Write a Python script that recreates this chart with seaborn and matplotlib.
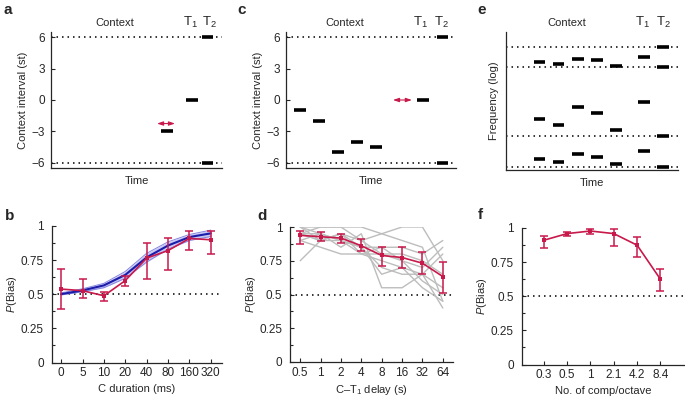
import numpy as np
import pandas as pd
import matplotlib
matplotlib.use('Agg')
import matplotlib.pyplot as plt
import seaborn as sns

# panel a : one context tone, then T1 / T2
a_tone_time = [6.05, 7.38, 8.19, 8.19]
a_tone_interval = [-3, 0, 6, -6]
a_arrow_time = [5.55, 6.49]
a_arrow_level = -2.25
a_label_time = {'Context': 3.35, 'T$_1$': 7.3, 'T$_2$': 8.3}

# panel c : five context tones
c_tone_time = [1, 2, 3, 4, 5, 7.44, 8.46, 8.46]
c_tone_interval = [-1, -2, -5, -4, -4.5, 0, 6, -6]
c_arrow_time = [5.87, 6.86]
c_arrow_level = 0
c_label_time = {'Context': 3.36, 'T$_1$': 7.3, 'T$_2$': 8.4}

# panel e : chords (log frequency, arbitrary units)
e_tone_time = [1, 1, 1, 2, 2, 2, 3, 3, 3, 4, 4, 4, 5, 5, 5, 6.47, 6.47, 6.47,
               7.47, 7.47, 7.47, 7.47]
e_tone_freq = [7.85, 3.70, 0.80, 7.70, 3.28, 0.60, 8.07, 4.54, 1.16,
               7.95, 4.13, 0.96, 7.56, 2.88, 0.43, 8.19, 4.95, 1.36,
               8.93, 7.44, 2.49, 0.24]
e_ref_freq = [8.93, 7.44, 2.49, 0.24]
e_label_time = {'Context': 2.45, 'T$_1$': 6.4, 'T$_2$': 7.5}

# panel b : C duration
b_labels = ['0', '5', '10', '20', '40', '80', '160', '320']
b_mean = [0.538, 0.526, 0.489, 0.60, 0.765, 0.82, 0.909, 0.899]
b_lo = [0.395, 0.474, 0.449, 0.56, 0.61, 0.679, 0.827, 0.793]
b_hi = [0.684, 0.61, 0.519, 0.637, 0.879, 0.911, 0.965, 0.963]
b_model = [0.501, 0.528, 0.565, 0.642, 0.77, 0.857, 0.919, 0.946]
b_model_lo = [0.495, 0.518, 0.548, 0.617, 0.736, 0.83, 0.894, 0.923]
b_model_hi = [0.51, 0.54, 0.58, 0.667, 0.80, 0.884, 0.938, 0.97]

# panel d : C-T1 delay
d_labels = ['0.5', '1', '2', '4', '8', '16', '32', '64']
d_mean = [0.938, 0.928, 0.918, 0.861, 0.789, 0.774, 0.732, 0.633]
d_lo = [0.873, 0.898, 0.881, 0.819, 0.71, 0.695, 0.653, 0.514]
d_hi = [0.973, 0.963, 0.95, 0.908, 0.849, 0.849, 0.814, 0.739]
d_subjects = [
    [1.0, 1.0, 1.0, 1.0, 0.95, 0.9, 0.85, 0.45],
    [0.95, 1.0, 1.0, 0.9, 0.95, 1.0, 1.0, 0.75],
    [0.75, 0.9, 0.95, 0.85, 0.85, 0.85, 0.8, 0.9],
    [1.0, 0.95, 0.85, 0.95, 0.55, 0.55, 0.65, 0.8],
    [0.9, 0.85, 0.8, 0.8, 0.75, 0.7, 0.65, 0.4],
    [0.95, 0.9, 0.9, 0.8, 0.8, 0.75, 0.6, 0.5],
    [0.9, 0.95, 0.9, 0.85, 0.7, 0.65, 0.65, 0.55],
    [1.0, 0.9, 0.95, 0.8, 0.85, 0.75, 0.7, 0.85],
    [0.95, 0.95, 0.9, 0.85, 0.65, 0.7, 0.55, 0.45],
    [0.95, 0.9, 0.95, 0.9, 0.8, 0.8, 0.75, 0.65],
]

# panel f : components per octave
f_labels = ['0.3', '0.5', '1', '2.1', '4.2', '8.4']
f_mean = [0.91, 0.959, 0.978, 0.959, 0.874, 0.624]
f_lo = [0.85, 0.939, 0.959, 0.869, 0.784, 0.539]
f_hi = [0.942, 0.971, 0.993, 0.99, 0.934, 0.699]

red = '#c8194b'
blue = '#1c1caa'

sns.set_style('ticks')
plt.rcParams['font.family'] = ['Liberation Sans', 'DejaVu Sans']
plt.rcParams['mathtext.fontset'] = 'custom'
plt.rcParams['mathtext.rm'] = 'Liberation Sans'
plt.rcParams['mathtext.it'] = 'Liberation Sans:italic'
plt.rcParams['font.size'] = 8
plt.rcParams['axes.linewidth'] = 0.9
plt.rcParams['xtick.direction'] = 'in'
plt.rcParams['ytick.direction'] = 'in'

fig = plt.figure(figsize=(6.85, 4.0), dpi=100)


def px_axes(l, t, r, b):
    return fig.add_axes([l / 685, 1 - b / 400, (r - l) / 685, (b - t) / 400])


dots = (0, (1, 2.6))
arrow_style = dict(arrowstyle='<|-|>,head_length=0.5,head_width=0.17', color=red,
                   lw=0.8, mutation_scale=7, shrinkA=0, shrinkB=0)


def tone_panel(ax, times, levels, xlim, ylim, labels, refs, width=0.62):
    for y in refs:
        ax.axhline(y, color='black', ls=dots, lw=1.1, zorder=1)
    t = np.array(times)
    ax.hlines(levels, t - width / 2, t + width / 2, color='black', lw=2.6, zorder=3)
    ax.set_xlim(xlim)
    ax.set_ylim(ylim)
    ax.set_xticks([])
    ax.set_xlabel('Time', fontsize=8, labelpad=6)
    ax.tick_params(axis='y', length=3, width=0.8, pad=4.5)
    sns.despine(ax=ax)
    tr = ax.get_xaxis_transform()
    for txt, x in labels.items():
        if txt == 'Context':
            ax.text(x, 1.03, txt, transform=tr, ha='center', va='bottom', fontsize=8)
        else:
            ax.text(x, 1.015, txt, transform=tr, ha='center', va='bottom', fontsize=9.5)


# a
ax = px_axes(51, 32, 222, 168)
tone_panel(ax, a_tone_time, a_tone_interval, (0, 8.95), (-6.5, 6.5), a_label_time, [6, -6])
ax.set_yticks([-6, -3, 0, 3, 6])
ax.set_yticklabels(['\u22126', '\u22123', '0', '3', '6'], fontsize=8.5)
ax.set_ylabel('Context interval (st)', fontsize=8, labelpad=2)
ax.annotate('', xy=(a_arrow_time[1], a_arrow_level), xytext=(a_arrow_time[0], a_arrow_level),
            arrowprops=arrow_style)

# c
ax = px_axes(286, 32, 456, 168)
tone_panel(ax, c_tone_time, c_tone_interval, (0.27, 9.17), (-6.5, 6.5), c_label_time, [6, -6])
ax.set_yticks([-6, -3, 0, 3, 6])
ax.set_yticklabels(['\u22126', '\u22123', '0', '3', '6'], fontsize=8.5)
ax.set_ylabel('Context interval (st)', fontsize=8, labelpad=2)
ax.annotate('', xy=(c_arrow_time[1], c_arrow_level), xytext=(c_arrow_time[0], c_arrow_level),
            arrowprops=arrow_style)

# e
ax = px_axes(506, 32, 678, 170)
tone_panel(ax, e_tone_time, e_tone_freq, (-0.75, 8.25), (0, 10), e_label_time, e_ref_freq)
ax.set_yticks([])
ax.set_ylabel('Frequency (log)', fontsize=8, labelpad=5)


def bias_panel(ax, labels, xlabel, xlim):
    ax.axhline(0.5, color='black', ls=dots, lw=1.1, zorder=1)
    ax.set_ylim(0, 1)
    ax.set_xlim(xlim)
    ax.set_yticks([0, 0.25, 0.5, 0.75, 1])
    ax.set_yticklabels(['0', '0.25', '0.5', '0.75', '1'], fontsize=8.5)
    ax.set_yticks(np.arange(0.125, 1, 0.25), minor=True)
    ax.set_xticks(range(len(labels)))
    ax.set_xticklabels(labels, fontsize=8.5)
    ax.tick_params(length=3, width=0.8, pad=3.5)
    ax.tick_params(axis='y', pad=5.5)
    ax.tick_params(which='minor', length=2, width=0.8)
    ax.set_xlabel(xlabel, fontsize=8, labelpad=3)
    ax.set_ylabel('$P$(Bias)', fontsize=8, labelpad=1)
    sns.despine(ax=ax)


def red_series(ax, mean, lo, hi):
    x = np.arange(len(mean))
    sns.lineplot(x=x, y=mean, color=red, lw=1.2, marker='s', markersize=2.5,
                 markeredgewidth=0, ax=ax, zorder=5)
    m = np.array(mean)
    ax.errorbar(x, m, yerr=[m - np.array(lo), np.array(hi) - m], fmt='none',
                ecolor=red, elinewidth=1.1, capsize=3, capthick=1.1, zorder=5)


# b
ax = px_axes(51.5, 226, 221.5, 362.5)
xb = np.arange(len(b_labels))
ax.fill_between(xb, b_model_lo, b_model_hi, color='#b9b9f2', alpha=0.8, lw=0, zorder=2)
sns.lineplot(x=xb, y=b_model_lo, color='#8585e0', lw=0.7, ax=ax, zorder=2)
sns.lineplot(x=xb, y=b_model_hi, color='#8585e0', lw=0.7, ax=ax, zorder=2)
sns.lineplot(x=xb, y=b_model, color=blue, lw=1.5, ax=ax, zorder=3)
red_series(ax, b_mean, b_lo, b_hi)
bias_panel(ax, b_labels, 'C duration (ms)', (-0.45, 7.5))

# d
ax = px_axes(290, 227, 453, 362)
subj = pd.DataFrame([(s, i, v) for s, row in enumerate(d_subjects) for i, v in enumerate(row)],
                    columns=['subject', 'delay', 'pbias'])
sns.lineplot(data=subj, x='delay', y='pbias', units='subject', estimator=None,
             color='#bdbdbd', lw=1.0, ax=ax, zorder=2)
red_series(ax, d_mean, d_lo, d_hi)
bias_panel(ax, d_labels, 'C\u2013T$_1$ delay (s)', (-0.5, 7.5))

# f
ax = px_axes(521.5, 228, 685, 364.5)
red_series(ax, f_mean, f_lo, f_hi)
bias_panel(ax, f_labels, 'No. of comp/octave', (-0.95, 6.05))

for letter, x, y in [('a', 4, 10), ('c', 237, 10), ('e', 477, 10),
                     ('b', 5, 216), ('d', 257, 216), ('f', 478, 215)]:
    fig.text(x / 685, 1 - y / 400, letter, fontsize=11, weight='bold', va='center', ha='left')

fig.savefig('out.png', dpi=100)
